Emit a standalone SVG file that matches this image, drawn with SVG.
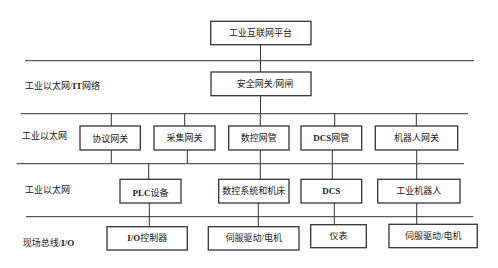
<svg xmlns="http://www.w3.org/2000/svg" width="498" height="268" viewBox="0 0 498 268">
<style>
.box{fill:#fff;stroke:#333;stroke-width:1.3}
.ln{stroke:#333;stroke-width:1;fill:none}
text{font-family:"Liberation Serif","Noto Sans CJK SC",serif;font-size:9px;fill:#222;text-anchor:middle;dominant-baseline:central}
.lbl{text-anchor:start}
.b{font-weight:bold}
</style>
<rect width="498" height="268" fill="#fff"/>
<g id="connectors">
<line class="ln" x1="25" y1="60.7" x2="474" y2="60.7"/>
<line class="ln" x1="20.7" y1="113.7" x2="468" y2="113.7"/>
<line class="ln" x1="16.7" y1="163.7" x2="464" y2="163.7"/>
<line class="ln" x1="26" y1="216.7" x2="473.3" y2="216.7"/>
<line class="ln" x1="260.5" y1="44.7" x2="260.5" y2="72"/>
<line class="ln" x1="260.5" y1="95.7" x2="260.5" y2="113.7"/>
<line class="ln" x1="111.3" y1="113.7" x2="111.3" y2="126"/>
<line class="ln" x1="184.7" y1="113.7" x2="184.7" y2="126"/>
<line class="ln" x1="260.3" y1="113.7" x2="260.3" y2="126"/>
<line class="ln" x1="334.7" y1="113.7" x2="334.7" y2="126"/>
<line class="ln" x1="416.3" y1="113.7" x2="416.3" y2="126"/>
<line class="ln" x1="111.3" y1="150" x2="111.3" y2="163.7"/>
<line class="ln" x1="187.3" y1="150" x2="187.3" y2="163.7"/>
<line class="ln" x1="260.3" y1="150" x2="260.3" y2="163.7"/>
<line class="ln" x1="332.3" y1="150" x2="332.3" y2="163.7"/>
<line class="ln" x1="416.7" y1="150" x2="416.7" y2="163.7"/>
<line class="ln" x1="148.7" y1="163.7" x2="148.7" y2="179.3"/>
<line class="ln" x1="260.3" y1="163.7" x2="260.3" y2="179.3"/>
<line class="ln" x1="332.3" y1="163.7" x2="332.3" y2="179.3"/>
<line class="ln" x1="416.7" y1="163.7" x2="416.7" y2="179.3"/>
<line class="ln" x1="149.3" y1="203" x2="149.3" y2="226.7"/>
<line class="ln" x1="258.3" y1="203" x2="258.3" y2="226.7"/>
<line class="ln" x1="334.3" y1="203" x2="334.3" y2="224.7"/>
<line class="ln" x1="416.7" y1="203" x2="416.7" y2="224.3"/>
</g>
<g id="layer-labels">
<text class="lbl" x="25" y="86">工业以太网/<tspan class="b">IT</tspan>网络</text>
<text class="lbl" x="22" y="135.7">工业以太网</text>
<text class="lbl" x="25" y="190">工业以太网</text>
<text class="lbl" x="22.7" y="243">现场总线/<tspan class="b">I/O</tspan></text>
</g>
<g id="platform"><rect class="box" x="210.7" y="21.3" width="100.3" height="23.4"/><text x="260.5" y="33">工业互联网平台</text></g>
<g id="security-gateway"><rect class="box" x="211" y="72" width="100" height="23.7"/><text x="265" y="83.5">安全网关/网闸</text></g>
<g id="protocol-gateway"><rect class="box" x="80" y="126" width="60.3" height="24"/><text x="110.2" y="139">协议网关</text></g>
<g id="collect-gateway"><rect class="box" x="154" y="126" width="61" height="24"/><text x="184.5" y="137.5">采集网关</text></g>
<g id="cnc-gateway"><rect class="box" x="228.7" y="126" width="60.3" height="24"/><text x="258.8" y="137.5">数控网管</text></g>
<g id="dcs-gateway"><rect class="box" x="301" y="126" width="60.7" height="24"/><text x="331.3" y="137.5"><tspan class="b">DCS</tspan>网管</text></g>
<g id="robot-gateway"><rect class="box" x="375.3" y="126" width="82.4" height="24"/><text x="416.5" y="137.5">机器人网关</text></g>
<g id="plc"><rect class="box" x="120" y="179.3" width="61" height="23.7"/><text x="150.5" y="193"><tspan class="b">PLC</tspan>设备</text></g>
<g id="cnc-system"><rect class="box" x="218.7" y="179.3" width="70.3" height="23.7"/><text x="253.8" y="191">数控系统和机床</text></g>
<g id="dcs"><rect class="box" x="301" y="179.3" width="60.7" height="23.7"/><text x="331.3" y="191" class="b">DCS</text></g>
<g id="robot"><rect class="box" x="377.7" y="179.3" width="82.3" height="23.7"/><text x="418.8" y="191">工业机器人</text></g>
<g id="io-controller"><rect class="box" x="107" y="226.7" width="80.3" height="23.3"/><text x="147.2" y="238.3"><tspan class="b">I/O</tspan>控制器</text></g>
<g id="servo-1"><rect class="box" x="208.3" y="226.7" width="90.7" height="23.3"/><text x="253.7" y="238.3">伺服驱动/电机</text></g>
<g id="instrument"><rect class="box" x="310.7" y="224.7" width="55.6" height="23"/><text x="338.5" y="236.2">仪表</text></g>
<g id="servo-2"><rect class="box" x="389" y="224.3" width="88.3" height="23.4"/><text x="433.2" y="236">伺服驱动/电机</text></g>
</svg>
